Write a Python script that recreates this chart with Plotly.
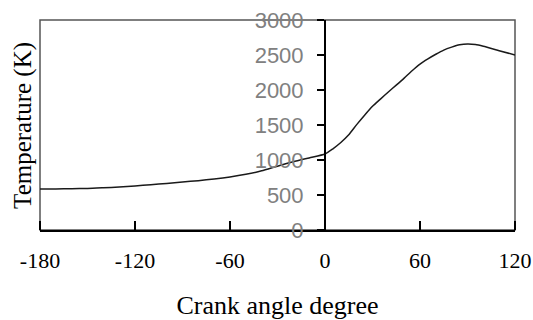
import plotly.graph_objects as go

crank_angle = [-180, -170, -160, -150, -140, -130, -120, -110, -100, -90, -80, -70, -60,
               -50, -40, -30, -20, -10, 0, 5, 10, 15, 20, 25, 30, 35, 40, 45, 50, 55, 60,
               65, 70, 75, 80, 85, 90, 95, 100, 110, 120]
temperature = [585, 587, 590, 593, 603, 615, 630, 646, 665, 685, 705, 728, 757,
               795, 845, 912, 975, 1030, 1085, 1160, 1250, 1360, 1505, 1640, 1767, 1870,
               1972, 2070, 2170, 2275, 2370, 2445, 2511, 2570, 2612, 2645, 2658, 2650,
               2625, 2562, 2500]

x_ticks = [-180, -120, -60, 0, 60, 120]
y_ticks = [0, 500, 1000, 1500, 2000, 2500, 3000]

fig = go.Figure()
fig.add_trace(go.Scatter(x=crank_angle, y=temperature, mode="lines",
                         line=dict(color="#1a1a1a", width=1.5, shape="spline", smoothing=0.6),
                         showlegend=False))
# helper trace so the tick-only overlay axis is rendered
fig.add_trace(go.Scatter(x=crank_angle, y=temperature, mode="lines", xaxis="x2",
                         line=dict(color="rgba(0,0,0,0)", width=0), hoverinfo="skip",
                         showlegend=False))

fig.update_layout(
    width=533, height=320,
    margin=dict(l=40, r=18, t=20, b=90, autoexpand=False),
    paper_bgcolor="white", plot_bgcolor="white",
    xaxis=dict(
        range=[-180, 120], tickvals=x_ticks, ticktext=[str(v) for v in x_ticks],
        automargin=False,
        showgrid=False, zeroline=False,
        showline=True, linecolor="black", linewidth=2,
        ticks="",
        tickfont=dict(family="Liberation Serif", size=22, color="black"),
        ticklabelstandoff=10,
        title=dict(text="Crank angle degree", standoff=39,
                   font=dict(family="Liberation Serif", size=26, color="black")),
    ),
    xaxis2=dict(
        range=[-180, 120], tickvals=x_ticks, overlaying="x", side="top",
        anchor="free", position=0, automargin=False,
        showgrid=False, zeroline=False, showline=False, showticklabels=False,
        ticks="outside", ticklen=9, tickwidth=2, tickcolor="black",
    ),
    yaxis=dict(
        range=[0, 3000], tickvals=y_ticks, ticktext=[str(v) for v in y_ticks],
        anchor="free", position=0.6, automargin=False,
        showgrid=False, zeroline=False,
        showline=True, linecolor="black", linewidth=2,
        ticks="outside", ticklen=7, tickwidth=2, tickcolor="black",
        tickfont=dict(family="Liberation Sans", size=22, color="#808080"),
        ticklabelstandoff=9,
    ),
    shapes=[dict(type="rect", xref="paper", yref="paper", x0=0, x1=1, y0=0, y1=1,
                 line=dict(color="#555555", width=1.5), layer="below")],
    annotations=[dict(text="Temperature (K)", textangle=-90, xref="paper", yref="paper",
                      x=-0.036, y=0.5, xanchor="center", yanchor="middle", showarrow=False,
                      font=dict(family="Liberation Serif", size=25, color="black"))],
)

fig.write_html("out.html")
